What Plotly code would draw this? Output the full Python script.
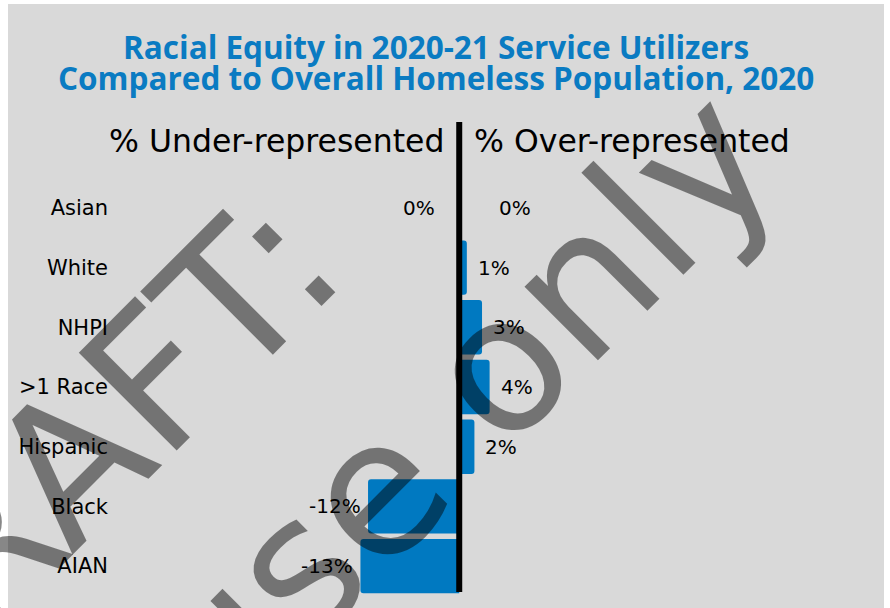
import plotly.graph_objects as go

# Race / ethnicity groups, top to bottom
categories = ["Asian", "White", "NHPI", ">1 Race", "Hispanic", "Black", "AIAN"]
# Percentage-point gap between service utilizers and the overall homeless population
under_represented = [0, None, None, None, None, -12, -13]
over_represented = [0, 1, 3, 4, 2, None, None]

W, H = 890, 608
BLUE = "#0079c1"
GRAY = "#d9d9d9"
BODY_FONT = "DejaVu Sans"


def px(x):
    return x / W


def py(y):
    return 1 - y / H


fig = go.Figure()
for vals in (under_represented, over_represented):
    fig.add_trace(go.Bar(
        y=categories, x=vals, orientation="h",
        marker=dict(color=BLUE, line=dict(width=0)),
        hoverinfo="skip", showlegend=False,
    ))

annotations = []
# value labels next to each bar end
for vals, side in ((under_represented, -1), (over_represented, 1)):
    for cat, v in zip(categories, vals):
        if v is None:
            continue
        if side > 0:
            shift = 38 if v == 0 else 9
            anchor = "left"
        else:
            shift = -22 if v == 0 else -5
            anchor = "right"
        annotations.append(dict(
            x=v, y=cat, xref="x", yref="y", text=f"{v:.0f}%", showarrow=False,
            xanchor=anchor, yanchor="middle", xshift=shift,
            font=dict(family=BODY_FONT, size=20, color="black"),
        ))

# two-line title
title_font = dict(family="Open Sans", size=31.5, color="#0a7bc2", weight=700)
annotations += [
    dict(x=px(436), y=py(47), xref="paper", yref="paper", showarrow=False,
         text="Racial Equity in 2020-21 Service Utilizers",
         xanchor="center", yanchor="middle", font=title_font),
    dict(x=px(436), y=py(77), xref="paper", yref="paper", showarrow=False,
         text="Compared to Overall Homeless Population, 2020",
         xanchor="center", yanchor="middle", font=title_font),
]

# side headers
head_font = dict(family=BODY_FONT, size=31.5, color="black")
annotations += [
    dict(x=px(446), y=py(141), xref="paper", yref="paper", showarrow=False,
         text="% Under-represented", xanchor="right", yanchor="middle", font=head_font),
    dict(x=px(472), y=py(141), xref="paper", yref="paper", showarrow=False,
         text="% Over-represented", xanchor="left", yanchor="middle", font=head_font),
]

# draft watermark
wm_font = dict(family=BODY_FONT, size=190, color="rgba(0,0,0,0.47)")
annotations += [
    dict(x=px(69), y=py(465), xref="paper", yref="paper", showarrow=False,
         text="DRAFT:", textangle=-45, xanchor="center", yanchor="middle", font=wm_font),
    dict(x=px(178), y=py(687), xref="paper", yref="paper", showarrow=False,
         text="Internal use only", textangle=-45, xanchor="center", yanchor="middle",
         font=wm_font),
]

shapes = [
    # grey panel
    dict(type="rect", xref="paper", yref="paper", x0=px(8), x1=px(884), y0=0, y1=py(4),
         fillcolor=GRAY, line=dict(width=0), layer="below"),
    # zero divider
    dict(type="line", xref="x", yref="paper", x0=0, x1=0, y0=py(592), y1=py(122),
         line=dict(color="black", width=6), layer="above"),
]

fig.update_layout(
    width=W, height=H, autosize=False,
    margin=dict(l=0, r=0, t=0, b=0),
    paper_bgcolor="white", plot_bgcolor="rgba(0,0,0,0)",
    barmode="overlay", bargap=0.09, barcornerradius=3,
    xaxis=dict(domain=[px(115), px(884)], range=[-45.3, 55.9], visible=False,
               fixedrange=True),
    yaxis=dict(domain=[py(596), py(178)], autorange="reversed", showgrid=False,
               zeroline=False, showline=False, ticks="", ticklabelstandoff=6,
               tickfont=dict(family=BODY_FONT, size=21, color="black")),
    annotations=annotations,
    shapes=shapes,
)

fig.write_html("out.html")
